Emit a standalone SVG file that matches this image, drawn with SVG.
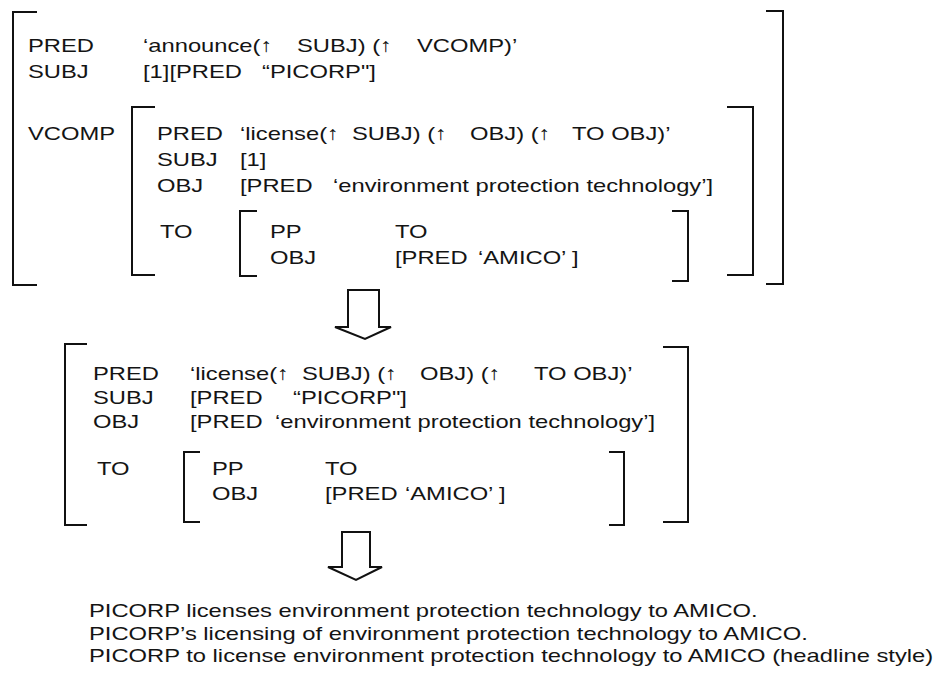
<svg xmlns="http://www.w3.org/2000/svg" width="941" height="678" viewBox="0 0 941 678">
<style>
text{font-family:"Liberation Sans",Arial,sans-serif;font-size:19px;fill:#141414;white-space:pre}
.br{fill:none;stroke:#111;stroke-width:2}
.ar{fill:#fff;stroke:#111;stroke-width:2;stroke-linejoin:miter}
</style>
<rect width="941" height="678" fill="#fff"/>
<g id="fs1">
<path class="br" d="M37,12 H13 V285 H37"/>
<path class="br" d="M766,11 H783 V284 H766"/>
<text transform="matrix(1.25 0 0 1 28 52)">PRED</text>
<text transform="matrix(1.25 0 0 1 143 52)">‘announce(↑</text>
<text transform="matrix(1.25 0 0 1 297 52)">SUBJ) (↑</text>
<text transform="matrix(1.25 0 0 1 417 52)">VCOMP)’</text>
<text transform="matrix(1.25 0 0 1 28 78)">SUBJ</text>
<text transform="matrix(1.25 0 0 1 143 78)">[1][PRED</text>
<text transform="matrix(1.25 0 0 1 262 78)">“PICORP"]</text>
<text transform="matrix(1.25 0 0 1 28 140)">VCOMP</text>
<g id="vcomp">
<path class="br" d="M155,107 H132 V275 H155"/>
<path class="br" d="M727,107 H753 V275 H727"/>
<text transform="matrix(1.25 0 0 1 157 140)">PRED</text>
<text transform="matrix(1.25 0 0 1 240 140)">‘license(↑</text>
<text transform="matrix(1.25 0 0 1 352 140)">SUBJ) (↑</text>
<text transform="matrix(1.25 0 0 1 470 140)">OBJ) (↑</text>
<text transform="matrix(1.25 0 0 1 572 140)">TO OBJ)’</text>
<text transform="matrix(1.25 0 0 1 157 166)">SUBJ</text>
<text transform="matrix(1.25 0 0 1 240 166)">[1]</text>
<text transform="matrix(1.25 0 0 1 157 192)">OBJ</text>
<text transform="matrix(1.25 0 0 1 240 192)">[PRED</text>
<text transform="matrix(1.25 0 0 1 333 192)">‘environment protection technology’]</text>
<text transform="matrix(1.25 0 0 1 160 238)">TO</text>
<g id="to1">
<path class="br" d="M257,211 H240 V276 H257"/>
<path class="br" d="M672,211 H688 V281 H672"/>
<text transform="matrix(1.25 0 0 1 270 238)">PP</text>
<text transform="matrix(1.25 0 0 1 395 238)">TO</text>
<text transform="matrix(1.25 0 0 1 270 264)">OBJ</text>
<text transform="matrix(1.25 0 0 1 395 264)">[PRED</text>
<text transform="matrix(1.25 0 0 1 478 264)">‘AMICO’ ]</text>
</g>
</g>
</g>
<g id="fs2">
<path class="br" d="M87,344 H65 V525 H87"/>
<path class="br" d="M663,347 H688 V522 H663"/>
<text transform="matrix(1.25 0 0 1 93 380)">PRED</text>
<text transform="matrix(1.25 0 0 1 190 380)">‘license(↑</text>
<text transform="matrix(1.25 0 0 1 302 380)">SUBJ) (↑</text>
<text transform="matrix(1.25 0 0 1 420 380)">OBJ) (↑</text>
<text transform="matrix(1.25 0 0 1 534 380)">TO OBJ)’</text>
<text transform="matrix(1.25 0 0 1 93 404)">SUBJ</text>
<text transform="matrix(1.25 0 0 1 190 404)">[PRED</text>
<text transform="matrix(1.25 0 0 1 293 404)">“PICORP"]</text>
<text transform="matrix(1.25 0 0 1 93 428)">OBJ</text>
<text transform="matrix(1.25 0 0 1 190 428)">[PRED</text>
<text transform="matrix(1.25 0 0 1 275 428)">‘environment protection technology’]</text>
<text transform="matrix(1.25 0 0 1 97 475)">TO</text>
<g id="to2">
<path class="br" d="M200,452 H184 V522 H200"/>
<path class="br" d="M609,452 H624 V525 H609"/>
<text transform="matrix(1.25 0 0 1 212 475)">PP</text>
<text transform="matrix(1.25 0 0 1 325 475)">TO</text>
<text transform="matrix(1.25 0 0 1 212 500)">OBJ</text>
<text transform="matrix(1.25 0 0 1 325 500)">[PRED</text>
<text transform="matrix(1.25 0 0 1 405 500)">‘AMICO’ ]</text>
</g>
</g>
<g id="connectors">
<path class="ar" d="M348,290 H379 V327 H391 L365,339 L335,327 H348 Z"/>
<path class="ar" d="M342,532 H370 V567 H382 L356,580 L328,567 H342 Z"/>
</g>
<g id="outputs">
<text transform="matrix(1.25 0 0 1 89 617)">PICORP licenses environment protection technology to AMICO.</text>
<text transform="matrix(1.25 0 0 1 89 640)">PICORP’s licensing of environment protection technology to AMICO.</text>
<text transform="matrix(1.25 0 0 1 89 662)">PICORP to license environment protection technology to AMICO (headline style)</text>
</g>
</svg>
